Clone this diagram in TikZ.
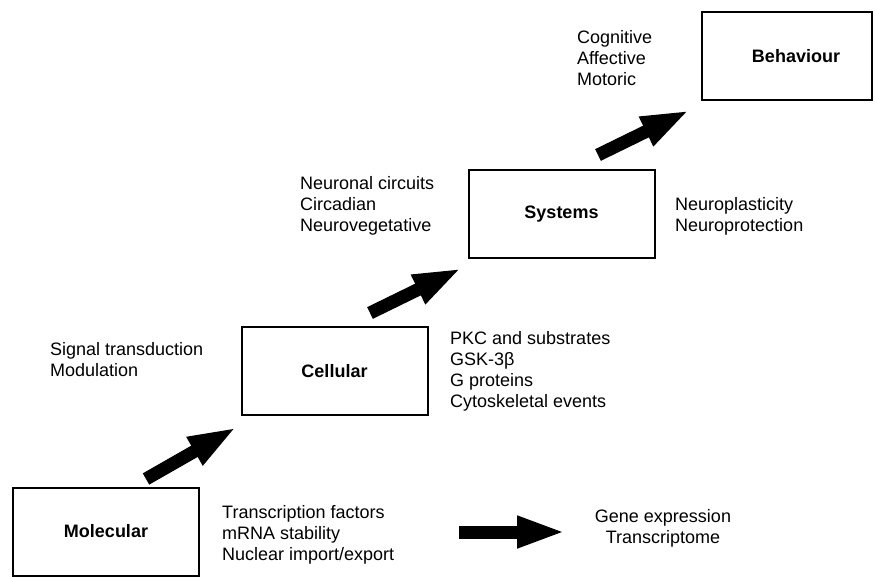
\documentclass[tikz,border=0pt]{standalone}
\usepackage{fontspec}
\setmainfont{Liberation Sans}
\usetikzlibrary{arrows.meta}
\begin{document}
\begin{tikzpicture}[x=1pt,y=-1pt,
  box/.style={draw,line width=2pt,minimum width=186pt,minimum height=88pt,inner sep=0pt,font=\fontsize{18}{21}\selectfont\bfseries},
  lbl/.style={align=left,anchor=base west,inner sep=0pt,font=\fontsize{18}{21}\selectfont},
  clbl/.style={align=center,anchor=base,inner sep=0pt,font=\fontsize{18}{21}\selectfont},
  bigarrow/.style={line width=13pt,-{Triangle[length=49pt,width=29pt]}}]
\useasboundingbox (0,0) rectangle (875,577);
\node[box] (mol) at (106,531.5) {Molecular};
\node[box] (cel) at (334.5,371) {Cellular};
\node[box] (sys) at (561.5,214) {Systems};
\node[box,minimum width=170pt] (beh) at (787,56) {\hspace*{18pt}Behaviour};
\coordinate (a1t) at (146,479); \coordinate (a1h) at (237,427);
\coordinate (a2t) at (370,313); \coordinate (a2h) at (462,268);
\coordinate (a3t) at (598,155); \coordinate (a3h) at (690,110);
\coordinate (a4t) at (459,532); \coordinate (a4h) at (566,532);
\draw[bigarrow] (a1t) -- (a1h);
\draw[bigarrow] (a2t) -- (a2h);
\draw[bigarrow] (a3t) -- (a3h);
\draw[bigarrow] (a4t) -- (a4h);
\node[lbl] (tmol) at (222,560) {Transcription factors\\mRNA stability\\Nuclear import/export};
\node[clbl] (tgene) at (663,543.5) {Gene expression\\Transcriptome};
\node[lbl] (tsig) at (50,376.5) {Signal transduction\\Modulation};
\node[lbl] (tpkc) at (450,407.5) {PKC and substrates\\GSK-3β\\G proteins\\Cytoskeletal events};
\node[lbl] (tneu) at (300,231.5) {Neuronal circuits\\Circadian\\Neurovegetative};
\node[lbl] (tpla) at (675,231.5) {Neuroplasticity\\Neuroprotection};
\node[lbl] (tcog) at (577,86) {Cognitive\\Affective\\Motoric};
\end{tikzpicture}
\end{document}
